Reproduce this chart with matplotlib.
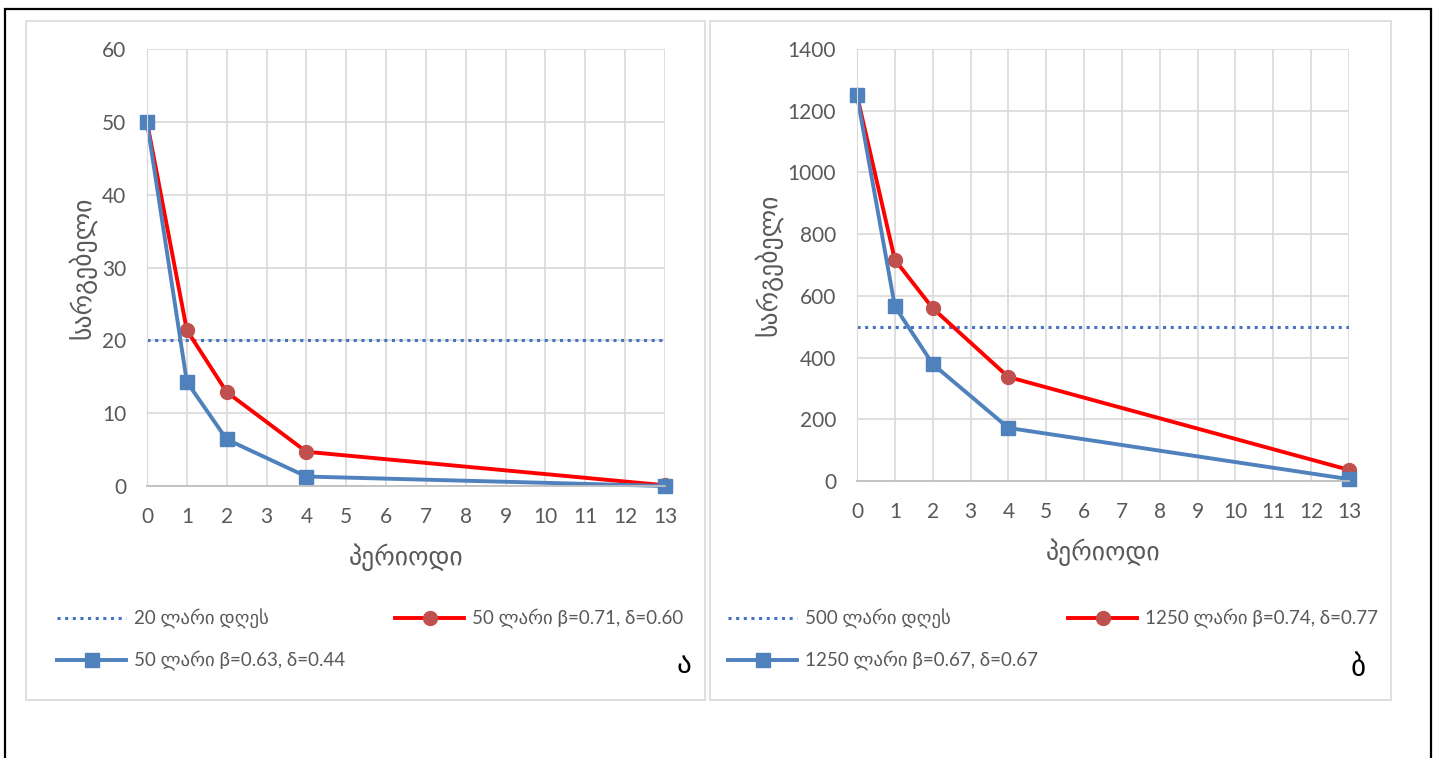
import matplotlib.pyplot as plt
from matplotlib.patches import Rectangle

plt.rcParams['font.family'] = ['Lato', 'DejaVu Sans']

# data
periods = [0, 1, 2, 4, 13]
xticks = list(range(0, 14))

a_ref = 20
a_red = [50, 21.4, 12.9, 4.7, 0.1]
a_blue = [50, 14.3, 6.4, 1.3, 0]
a_labels = ['20 ლარი დღეს', '50 ლარი β=0.71, δ=0.60', '50 ლარი β=0.63, δ=0.44']

b_ref = 500
b_red = [1250, 717, 560, 337, 36]
b_blue = [1250, 566, 379, 172, 6]
b_labels = ['500 ლარი დღეს', '1250 ლარი β=0.74, δ=0.77', '1250 ლარი β=0.67, δ=0.67']

W, H = 1434, 758
fig = plt.figure(figsize=(W / 100, H / 100), dpi=100)

def fx(x):
    return x / W

def fy(y):
    return 1 - y / H

# outer black frame and the two panel frames
fig.patches.append(Rectangle((fx(5), fy(790)), fx(1426), (790 - 9) / H,
                             transform=fig.transFigure, fill=False, ec='black', lw=1.6))
for x0, x1 in [(26, 705), (710, 1391)]:
    fig.patches.append(Rectangle((fx(x0), fy(700)), fx(x1 - x0), (700 - 21) / H,
                                 transform=fig.transFigure, fill=False, ec='#d9d9d9', lw=1.2))

red = '#ff0000'
red_m = '#c0504d'
blue = '#4f81bd'
dot_c = '#4472c4'
tick_c = '#595959'


def panel(left, top, right, bottom, ymax, ystep, ref, red_vals, blue_vals, labels,
          leg1_x, leg2_x, letter_xy, letter):
    ax = fig.add_axes([fx(left), fy(bottom), fx(right - left), (bottom - top) / H])
    ax.set_xlim(0, 13)
    ax.set_ylim(0, ymax)
    ax.set_xticks(xticks)
    ax.set_yticks(range(0, ymax + 1, ystep))
    ax.grid(True, color='#d9d9d9', lw=1.2)
    ax.set_axisbelow(True)
    for s in ['top', 'right']:
        ax.spines[s].set_visible(False)
    ax.spines['left'].set_color('#d9d9d9')
    ax.spines['bottom'].set_color('#bfbfbf')
    ax.spines['bottom'].set_linewidth(1.3)
    ax.tick_params(length=0, labelsize=15, colors=tick_c)
    ax.tick_params(axis='x', pad=15)
    ax.tick_params(axis='y', pad=15)

    l0, = ax.plot([0, 13], [ref, ref], ls=(0, (1, 1.5)), color=dot_c, lw=2.2)
    l1, = ax.plot(periods, red_vals, color=red, lw=2.8, marker='o', ms=10,
                  mfc=red_m, mec=red_m, clip_on=False)
    l2, = ax.plot(periods, blue_vals, color=blue, lw=2.8, marker='s', ms=9.5,
                  mfc=blue, mec=blue, clip_on=False)

    ax.set_xlabel('პერიოდი', fontsize=18.5, color=tick_c, labelpad=12)
    ax.set_ylabel('სარგებელი', fontsize=18.5, color=tick_c, labelpad=4)

    leg1 = ax.legend([l0, l2], [labels[0], labels[2]], loc='upper left',
                     bbox_to_anchor=(fx(leg1_x), fy(609)), bbox_transform=fig.transFigure,
                     frameon=False, fontsize=13.5, handlelength=3.7, handletextpad=0.4,
                     borderpad=0, borderaxespad=0, labelspacing=1.15, labelcolor=tick_c)
    ax.add_artist(leg1)
    ax.legend([l1], [labels[1]], loc='upper left',
              bbox_to_anchor=(fx(leg2_x), fy(609)), bbox_transform=fig.transFigure,
              frameon=False, fontsize=13.5, handlelength=3.7, handletextpad=0.4,
              borderpad=0, borderaxespad=0, labelcolor=tick_c)
    fig.text(fx(letter_xy[0]), fy(letter_xy[1]), letter, fontsize=21,
             ha='center', va='center', color='black')
    return ax


panel(147, 49, 665, 486, 60, 10, a_ref, a_red, a_blue, a_labels, 57, 395, (684, 665), 'ა')
panel(857, 49, 1349, 481, 1400, 200, b_ref, b_red, b_blue, b_labels, 728, 1068, (1358, 668), 'ბ')

fig.savefig('out.png', dpi=100)
